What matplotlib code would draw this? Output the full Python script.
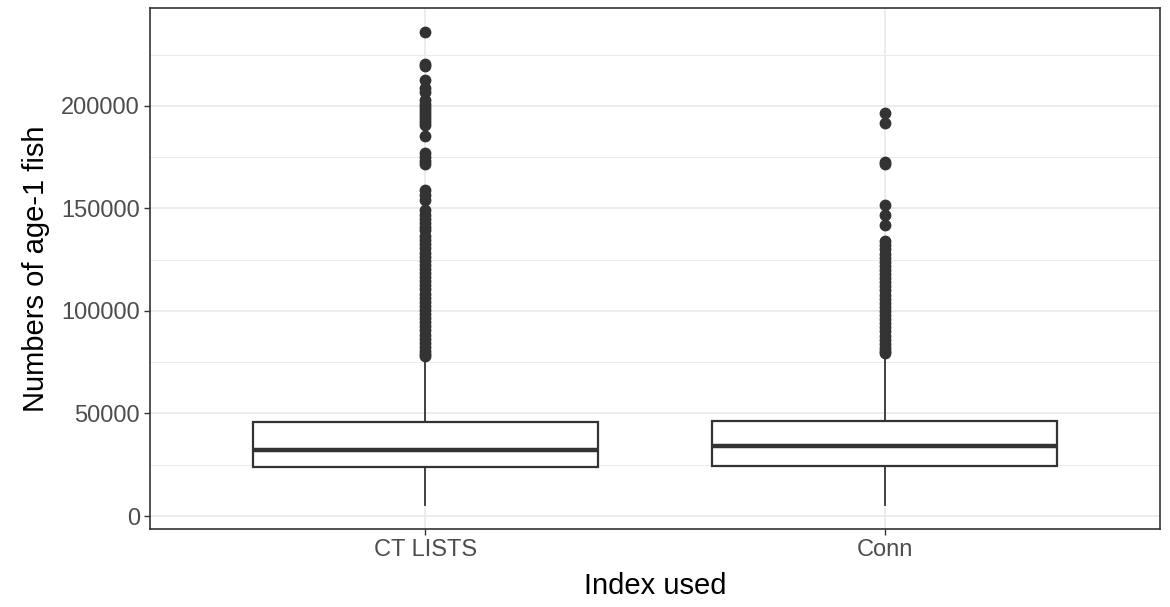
import matplotlib
matplotlib.use('Agg')
import matplotlib.pyplot as plt
from matplotlib.ticker import MultipleLocator

plt.rcParams['font.family'] = ['Liberation Sans', 'DejaVu Sans']

# box summary values
categories = ['CT LISTS', 'Conn']
q1 = [23900, 24400]
medians = [32200, 34100]
q3 = [45800, 46300]
whisker_low = [5400, 5400]
whisker_high = [77500, 79000]

outliers_ct = [236200, 220500, 219500, 212700, 208600, 207000, 203000, 201000,
               199500, 198000, 196500, 195000, 193500, 192000, 190500, 185400,
               177000, 175000, 173000, 171500, 159000, 156500, 154000, 149000,
               147000, 145000, 143000, 141000, 139500, 136700, 134500, 132500,
               130500, 128500, 126500, 124500, 122500, 120500, 118500, 116500,
               114500, 112500, 110500, 108500, 106500, 104500, 102500, 100500,
               98500, 96500, 94500, 92500, 90500, 88500, 86500, 84500, 82500,
               80500, 79000, 77900]
outliers_conn = [196400, 191500, 172500, 171500, 151700, 146800, 142000, 134000,
                 132000, 130000, 128000, 126000, 124000, 122000, 120000, 118000,
                 116000, 114000, 112000, 110000, 108000, 106000, 104000, 102000,
                 100000, 98000, 96000, 94000, 92000, 90000, 88000, 86000, 84000,
                 82000, 80500, 79600]
outliers = [outliers_ct, outliers_conn]

stats = []
for i, name in enumerate(categories):
    stats.append({'label': name, 'q1': q1[i], 'med': medians[i], 'q3': q3[i],
                  'whislo': whisker_low[i], 'whishi': whisker_high[i],
                  'fliers': outliers[i]})

fig = plt.figure(figsize=(11.7, 6.07), dpi=100)
ax = fig.add_axes([0.128, 0.1285, 0.8635, 0.8585])

dark = '#333333'
ax.bxp(stats, positions=[1, 2], widths=0.75, showcaps=False, patch_artist=True,
       boxprops=dict(facecolor='white', edgecolor=dark, linewidth=1.6),
       medianprops=dict(color=dark, linewidth=3.2),
       whiskerprops=dict(color=dark, linewidth=1.3),
       flierprops=dict(marker='o', markerfacecolor=dark, markeredgecolor=dark,
                       markersize=7.5))

ax.set_xlim(0.4, 2.6)
ax.set_ylim(-6340, 247800)
ax.yaxis.set_major_locator(MultipleLocator(50000))
ax.yaxis.set_minor_locator(MultipleLocator(25000))
ax.set_axisbelow(True)
ax.grid(which='major', color='#ebebeb', linewidth=1.3)
ax.grid(which='minor', axis='y', color='#ebebeb', linewidth=0.7)
ax.tick_params(which='minor', length=0)
ax.tick_params(which='major', length=4, width=1, color=dark, labelsize=17,
               labelcolor='#4d4d4d', pad=3)
for s in ax.spines.values():
    s.set_color(dark)
    s.set_linewidth(1.2)

ax.set_xticks([1, 2])
ax.set_xticklabels(categories)
ax.set_xlabel('Index used', fontsize=21, labelpad=8)
ax.set_ylabel('Numbers of age-1 fish', fontsize=21, labelpad=8)

fig.savefig('out.png', dpi=100)
